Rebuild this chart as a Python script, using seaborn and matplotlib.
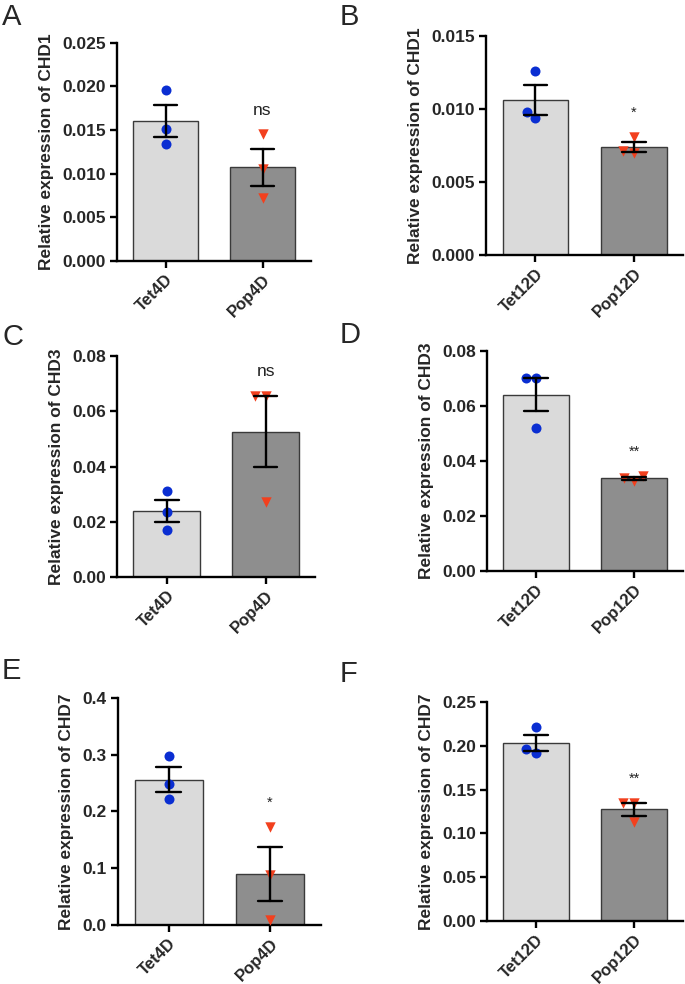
import numpy as np
import pandas as pd
import matplotlib
matplotlib.use("Agg")
import matplotlib.pyplot as plt
from matplotlib.ticker import FormatStrFormatter
import seaborn as sns

# panel data (three replicates per group)
panel_letters = ["A", "B", "C", "D", "E", "F"]
genes = ["CHD1", "CHD1", "CHD3", "CHD3", "CHD7", "CHD7"]
tet_labels = ["Tet4D", "Tet12D", "Tet4D", "Tet12D", "Tet4D", "Tet12D"]
pop_labels = ["Pop4D", "Pop12D", "Pop4D", "Pop12D", "Pop4D", "Pop12D"]
tet_values = [
    [0.0196, 0.0151, 0.0134],
    [0.0126, 0.0098, 0.0094],
    [0.0310, 0.0235, 0.0170],
    [0.0702, 0.0702, 0.0520],
    [0.297, 0.249, 0.222],
    [0.222, 0.196, 0.192],
]
pop_values = [
    [0.0145, 0.0105, 0.0072],
    [0.0081, 0.0071, 0.0070],
    [0.0655, 0.0655, 0.0270],
    [0.0346, 0.0326, 0.0340],
    [0.172, 0.088, 0.008],
    [0.135, 0.135, 0.113],
]
signif = ["ns", "*", "ns", "**", "*", "**"]
y_max = [0.025, 0.015, 0.08, 0.08, 0.4, 0.25]
y_step = [0.005, 0.005, 0.02, 0.02, 0.1, 0.05]
y_fmt = ["%.3f", "%.3f", "%.2f", "%.2f", "%.1f", "%.2f"]

# axes boxes in figure fractions [left, bottom, width, height]
boxes = [
    [0.171, 0.735, 0.283, 0.2215],
    [0.710, 0.741, 0.287, 0.2226],
    [0.171, 0.4136, 0.289, 0.2246],
    [0.711, 0.4197, 0.286, 0.2236],
    [0.172, 0.060, 0.2964, 0.2307],
    [0.711, 0.064, 0.286, 0.2226],
]
letter_pos = [(0.003, 0.997), (0.496, 0.997), (0.003, 0.672), (0.496, 0.674),
              (0.003, 0.332), (0.496, 0.329)]

LIGHT = "#dadada"
DARK = "#8e8e8e"
BLUE = "#0a2ed2"
RED = "#f2401e"

sns.set_theme(style="ticks")
plt.rcParams["font.family"] = ["Liberation Sans", "DejaVu Sans"]

fig = plt.figure(figsize=(6.85, 9.84), dpi=100)

for i in range(6):
    ax = fig.add_axes(boxes[i])
    groups = [tet_labels[i], pop_labels[i]]
    df = pd.DataFrame({
        "group": [groups[0]] * 3 + [groups[1]] * 3,
        "value": tet_values[i] + pop_values[i],
    })

    sns.barplot(data=df, x="group", y="value", order=groups, hue="group",
                hue_order=groups, palette=[LIGHT, DARK], legend=False,
                errorbar="se", capsize=0.24, width=0.67,
                edgecolor="#3a3a3a", linewidth=1.0,
                err_kws={"color": "black", "linewidth": 1.7}, ax=ax)
    err_lines = list(ax.lines)

    sns.swarmplot(data=df[df.group == groups[0]], x="group", y="value",
                  order=groups, color=BLUE, marker="o", size=7.2,
                  linewidth=0, ax=ax)
    sns.swarmplot(data=df[df.group == groups[1]], x="group", y="value",
                  order=groups, color=RED, marker="v", size=7.5,
                  linewidth=0, ax=ax)
    for ln in err_lines:
        ln.set_zorder(5)

    # significance label above the Pop group
    top = max(pop_values[i])
    ax.text(1, top + 0.11 * y_max[i], signif[i], ha="center", va="center",
            fontsize=12.5 if signif[i] == "ns" else 10.5, color="#222222")

    ax.set_xlim(-0.5, 1.5)
    ax.set_ylim(0, y_max[i])
    ax.set_yticks(np.arange(0, y_max[i] + y_step[i] / 2, y_step[i]))
    ax.yaxis.set_major_formatter(FormatStrFormatter(y_fmt[i]))
    ax.set_xlabel("")
    ax.set_ylabel("Relative expression of " + genes[i], fontsize=12.5,
                  fontweight="bold", labelpad=6)
    ax.set_xticks([0, 1])
    ax.set_xticklabels(groups, rotation=45, ha="right", rotation_mode="anchor",
                       fontsize=12, fontweight="bold")
    for lab in ax.get_yticklabels():
        lab.set_fontweight("bold")
        lab.set_fontsize(12.5)
    sns.despine(ax=ax)
    for sp in ["left", "bottom"]:
        ax.spines[sp].set_linewidth(1.7)
        ax.spines[sp].set_color("black")
    ax.tick_params(axis="both", width=1.7, length=5, color="black", pad=3)

    fig.text(letter_pos[i][0], letter_pos[i][1], panel_letters[i],
             fontsize=21, ha="left", va="top")

fig.savefig("out.png", dpi=100)
